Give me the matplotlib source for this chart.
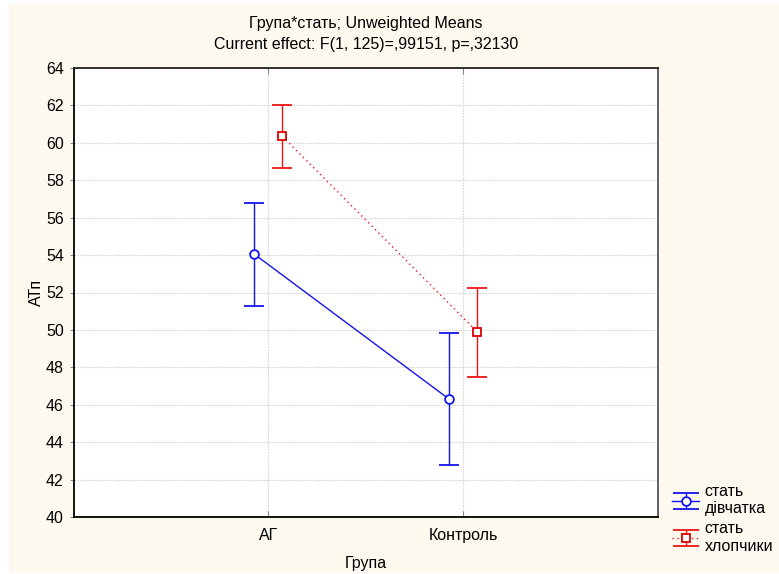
import numpy as np
import matplotlib
matplotlib.use('Agg')
import matplotlib.pyplot as plt
from matplotlib.lines import Line2D
from matplotlib.patches import Rectangle

plt.rcParams['font.family'] = ['Liberation Sans', 'DejaVu Sans']

# data
groups = ['АГ', 'Контроль']
girls_mean = [54.05, 46.3]
girls_low = [51.3, 42.8]
girls_high = [56.8, 49.85]
boys_mean = [60.35, 49.9]
boys_low = [58.65, 47.5]
boys_high = [62.0, 52.25]

x = np.arange(1, len(groups) + 1)
off = 0.072
fs = 11.5

fig = plt.figure(figsize=(7.79, 5.74), dpi=100)
fig.patch.set_facecolor('white')
fig.patches.append(Rectangle((9/779, 1/574), 770/779, 569/574, transform=fig.transFigure,
                             facecolor='#fdf9ef', edgecolor='none', zorder=-10))
ax = fig.add_axes([73.5/779, 1-517/574, (658-73.5)/779, (517-68)/574])
ax.set_facecolor('white')

gm = np.array(girls_mean)
bm = np.array(boys_mean)
e1 = ax.errorbar(x - off, gm, yerr=[gm - np.array(girls_low), np.array(girls_high) - gm],
                 color='#1414f0', lw=1, marker='o', ms=6.3, mfc='white', mec='#1414f0', mew=1.3,
                 capsize=7.2, capthick=1.2, label='стать\nдівчатка', zorder=3)
e2 = ax.errorbar(x + off, bm, yerr=[bm - np.array(boys_low), np.array(boys_high) - bm],
                 color='#f01414', lw=1, ls=(0, (1, 2.5)), marker='s', ms=6, mfc='white',
                 mec='#e00000', mew=1.3, capsize=7.2, capthick=1.2, label='стать\nхлопчики', zorder=3)
e2[2][0].set_linestyle('-')

ax.set_xlim(0, 3)
ax.set_ylim(40, 64)
ax.set_yticks(np.arange(40, 65, 2))
ax.set_xticks(x)
ax.set_xticklabels(groups)
ax.grid(True, color='#d6d6d6', ls=(0, (1.5, 1)), lw=0.8)
ax.set_axisbelow(True)
ax.tick_params(axis='x', direction='in', top=True, length=4, labelsize=fs, pad=8, color='#888888')
ax.tick_params(axis='y', direction='out', length=3, labelsize=fs, pad=4, color='#888888')
for s in ['left', 'bottom']:
    ax.spines[s].set_color('black')
    ax.spines[s].set_linewidth(1.3)
for s in ['right', 'top']:
    ax.spines[s].set_color('#555555')
    ax.spines[s].set_linewidth(1.3)
ax.spines['top'].set_color('#222222')

ax.set_xlabel('Група', fontsize=fs, labelpad=9)
ax.set_ylabel('АТп', fontsize=fs, labelpad=1)
ax.set_title('Група*стать; Unweighted Means\nCurrent effect: F(1, 125)=,99151, p=,32130',
             fontsize=fs, pad=14, linespacing=1.45)

leg = fig.legend(handles=[e1, e2], loc='upper left', bbox_to_anchor=(664/779, 1-476/574),
                 frameon=False, fontsize=fs, handlelength=1.7, handletextpad=0.35,
                 labelspacing=0.3, borderpad=0)
# wider caps in the legend keys
for ln in leg.findobj(Line2D):
    if ln.get_marker() == '_':
        ln.set_markersize(19)

plt.savefig('out.png', dpi=100, facecolor=fig.get_facecolor())
